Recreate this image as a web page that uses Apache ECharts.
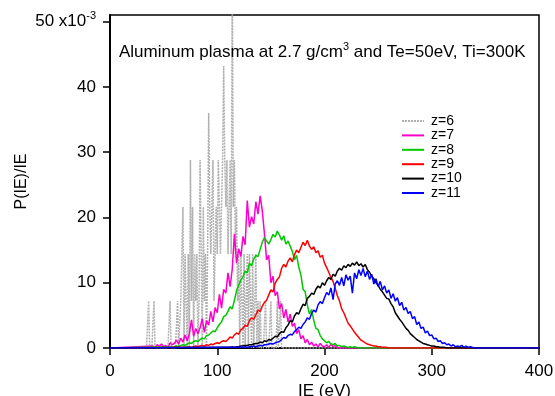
<!DOCTYPE html>
<html><head><meta charset="utf-8">
<script src="https://cdn.jsdelivr.net/npm/echarts@6/dist/echarts.min.js"></script>
<style>html,body{margin:0;padding:0;background:#fff}#c{width:555px;height:396px}</style>
</head><body><div id="c"></div>
<script>
// ---- data (P(IE)/IE in units of 1e-3) ----
const seriesNames = ['z=6','z=7','z=8','z=9','z=10','z=11'];
const seriesColors = ['#b0b0b0','#ff00cc','#00c800','#ff0000','#000000','#0000ff'];
const xTicks = [0,100,200,300,400];
const yTicks = [0,10,20,30,40,50];

// z=6 : 1 eV bins starting at 30 eV
const z6Start = 30, z6Step = 1;
const z6 = [0,0,0,0,0,0,7.2,0,0,0,0,7.2,0,0,0,0,0,0,0,0,
  0,0,0,0,0,0,7.2,0,0,0,0,0,0,7.2,0,0,7.2,14.4,21.6,0,
  14.4,7.2,0,14.4,0,28.8,7.2,21.6,0,14.4,7.2,14.4,0,7.2,28.8,14.4,0,21.6,7.2,14.4,
  0,14.4,36.0,21.6,14.4,21.6,28.8,7.2,14.4,21.6,14.4,28.8,21.6,14.4,21.6,28.8,43.2,28.8,21.6,28.8,
  14.4,21.6,28.8,14.4,57.6,21.6,28.8,14.4,21.6,7.2,14.4,0,14.4,7.2,0,14.4,0,7.2,14.4,0,
  14.4,7.2,0,14.4,0,7.2,14.4,0,7.2,0,7.2,0,0,0,0,7.2,0,0,0,0,
  7.2,0,0,0,0,0,7.2,0,0,7.2,0,0,0,0,0,0];

// z=7 : 2 eV bins starting at 40 eV
const z7Start = 40, z7Step = 2;
const z7 = [0.3,0.0,0.5,0.3,0.6,0.2,0.4,0.0,0.8,0.5,0.7,1.2,0.6,1.5,0.9,2.0,1.1,2.2,4.3,1.8,
  3.0,2.2,3.1,4.5,2.4,4.2,3.5,5.6,4.0,6.2,5.4,8.2,6.1,9.0,8.4,11.5,9.4,12.1,17.5,13.0,
  15.2,14.0,17.1,15.8,22.6,18.5,20.1,19.0,22.4,20.5,23.3,21.0,17.5,13.5,14.2,10.0,11.0,8.0,8.6,6.0,
  6.8,4.6,5.9,4.0,5.2,3.3,3.8,2.2,2.8,1.4,1.9,0.8,1.3,0.5,0.9,0.3,0.6,0.2,0.7,0.3,
  0.2,0.5,0.1,0.6,0.2,0.4,0.1,0.0];

// z=8 : 2 eV bins starting at 60 eV
const z8Start = 60, z8Step = 2;
const z8 = [0.2,0.3,0.2,0.4,0.5,0.4,0.6,0.8,0.7,1.0,1.1,1.0,1.3,1.5,1.4,1.9,2.0,2.3,2.6,2.5,
  3.1,3.6,4.0,4.8,5.0,5.6,6.3,6.0,7.3,8.8,9.6,10.4,10.9,11.8,11.5,13.0,12.6,13.6,14.2,14.0,
  15.1,16.2,16.9,16.4,15.9,16.6,17.4,17.0,17.9,17.3,16.5,17.2,15.9,16.4,15.6,14.8,13.5,14.2,12.4,11.2,
  9.0,8.6,6.6,5.2,5.9,4.2,3.0,2.8,1.9,1.4,1.1,0.8,1.0,0.6,0.5,0.7,0.3,0.4,0.2,0.3,
  0.2,0.1,0.2,0.1,0.2,0.1,0.0];

// z=9 : 2 eV bins starting at 70 eV
const z9Start = 70, z9Step = 2;
const z9 = [0.1,0.1,0.2,0.1,0.2,0.3,0.2,0.3,0.4,0.3,0.5,0.4,0.6,0.5,0.7,0.8,0.7,1.0,1.1,1.0,
  1.3,1.7,1.5,2.0,2.3,2.1,2.8,3.0,3.5,3.3,4.2,4.6,4.4,5.1,5.8,5.6,6.4,7.0,7.3,8.1,
  8.9,8.6,9.9,10.5,10.9,12.2,12.8,12.4,13.3,13.8,13.2,14.3,15.0,14.6,15.4,16.2,15.7,16.5,15.6,15.1,
  15.5,14.6,14.9,13.9,14.2,13.0,12.3,11.6,10.8,10.2,9.1,8.0,7.2,6.0,5.4,4.6,3.8,3.4,2.9,2.4,
  2.0,1.6,1.2,1.0,0.8,0.6,0.5,0.4,0.3,0.3,0.2,0.2,0.1,0.1,0.1,0.0];

// z=10 : 2 eV bins starting at 110 eV
const z10Start = 110, z10Step = 2;
const z10 = [0.1,0.1,0.2,0.1,0.2,0.2,0.3,0.3,0.4,0.4,0.5,0.5,0.6,0.7,0.7,0.9,0.8,1.1,1.0,1.3,
  1.2,1.5,1.8,1.7,2.2,2.5,2.4,3.1,3.5,4.2,4.0,4.9,5.4,5.2,6.0,6.7,6.5,7.6,7.9,8.4,
  8.2,9.0,9.5,9.2,10.0,9.6,10.3,10.8,10.5,11.3,11.0,11.8,12.2,11.9,12.6,12.3,12.8,12.5,13.0,12.7,
  13.2,12.6,12.9,12.4,12.8,12.0,11.6,11.0,10.6,10.0,9.6,9.0,8.6,8.1,7.6,7.5,6.8,6.3,5.4,4.9,
  4.4,4.0,3.5,3.0,2.7,2.2,1.9,1.6,1.3,1.1,0.9,0.7,0.6,0.5,0.4,0.3,0.3,0.2,0.2,0.1,
  0.1,0.1,0.0];

// z=11 : 2 eV bins starting at 120 eV
const z11Start = 120, z11Step = 2;
const z11 = [0.1,0.1,0.1,0.2,0.1,0.2,0.2,0.3,0.2,0.3,0.4,0.3,0.5,0.5,0.6,0.7,0.6,0.8,0.9,1.0,
  1.3,1.6,1.5,1.9,2.1,2.0,2.5,2.8,3.2,3.0,3.6,4.0,4.6,4.4,5.3,5.8,5.5,6.6,7.1,6.8,
  7.7,8.5,8.1,9.2,7.4,9.8,10.3,9.6,10.8,9.5,11.2,10.4,11.0,8.4,11.5,10.6,12.0,11.1,12.2,10.9,
  11.8,10.5,11.3,9.8,10.6,9.4,10.2,8.9,9.5,8.4,8.9,7.6,8.3,7.2,7.7,6.5,7.0,5.8,6.2,5.3,
  5.6,4.5,4.8,3.6,4.0,3.0,3.2,2.3,2.6,1.9,2.0,1.4,1.5,1.0,1.1,0.7,0.8,0.5,0.6,0.3,
  0.5,0.2,0.3,0.2,0.4,0.1,0.3,0.1,0.2,0.1,0.0];

function toPairs(start, step, vals) {
  const out = [[0, 0]];
  for (let i = 0; i < vals.length; i++) out.push([start + i * step, vals[i]]);
  out.push([400, 0]);
  return out;
}
const allData = [
  toPairs(z6Start, z6Step, z6), toPairs(z7Start, z7Step, z7), toPairs(z8Start, z8Step, z8),
  toPairs(z9Start, z9Step, z9), toPairs(z10Start, z10Step, z10), toPairs(z11Start, z11Step, z11)
];

const FONT = 'Liberation Sans';
const chart = echarts.init(document.getElementById('c'), null, {renderer: 'canvas'});
chart.setOption({
  animation: false,
  backgroundColor: '#fff',
  textStyle: {fontFamily: FONT},
  title: {
    left: 114, top: 36,
    text: '{a|Aluminum plasma at 2.7 g/cm}{s|3}{a| and Te=50eV, Ti=300K}',
    textStyle: {
      fontWeight: 'normal',
      rich: {
        a: {fontFamily: FONT, fontSize: 17, fontWeight: 'normal', color: '#000'},
        s: {fontFamily: FONT, fontSize: 11, fontWeight: 'normal', color: '#000', padding: [0, 0, 11, 0]}
      }
    }
  },
  legend: {
    orient: 'vertical', left: 401, top: 114, padding: 0,
    itemWidth: 22, itemHeight: 14, itemGap: 0.4,
    itemStyle: {opacity: 0},
    lineStyle: {width: 2},
    textStyle: {fontFamily: FONT, fontSize: 14, color: '#000', padding: [0, 0, 0, 2]},
    data: seriesNames
  },
  grid: {left: 110, right: 16, top: 15, bottom: 48, show: true, borderColor: '#000', borderWidth: 1.5,
         containLabel: false, outerBoundsMode: 'none'},
  xAxis: {
    type: 'value', min: xTicks[0], max: xTicks[xTicks.length - 1], interval: 100,
    name: 'IE (eV)', nameLocation: 'middle', nameGap: 35, nameMoveOverlap: false,
    nameTextStyle: {fontFamily: FONT, fontSize: 17, color: '#000'},
    axisLine: {show: true, lineStyle: {color: '#000', width: 2}},
    axisTick: {show: true, inside: false, length: 7, lineStyle: {color: '#000', width: 1.5}},
    axisLabel: {fontFamily: FONT, fontSize: 17, color: '#000', margin: 15},
    splitLine: {show: false}
  },
  yAxis: {
    type: 'value', min: 0, max: 51, interval: 10,
    name: 'P(IE)/IE', nameLocation: 'middle', nameGap: 80, nameRotate: 90, nameMoveOverlap: false,
    nameTextStyle: {fontFamily: FONT, fontSize: 16, color: '#000'},
    axisLine: {show: true, lineStyle: {color: '#000', width: 2}},
    axisTick: {show: true, inside: false, length: 7, lineStyle: {color: '#000', width: 1.5}},
    axisLabel: {
      fontFamily: FONT, fontSize: 17, color: '#000', margin: 14,
      formatter: function (v) { return v === 50 ? '{a|50 x10}{s|-3}' : '{a|' + v + '}'; },
      rich: {
        a: {fontFamily: FONT, fontSize: 17, color: '#000'},
        s: {fontFamily: FONT, fontSize: 11, color: '#000', padding: [0, 0, 11, 0]}
      }
    },
    splitLine: {show: false}
  },
  series: seriesNames.map((n, i) => ({
    name: n, type: 'line', data: allData[i], showSymbol: false, symbol: 'none',
    clip: true,
    lineStyle: i === 0 ? {color: seriesColors[i], width: 1.5, type: [2, 1]} : {color: seriesColors[i], width: 1.5},
    itemStyle: {color: seriesColors[i]}
  }))
});
</script>
</body></html>
